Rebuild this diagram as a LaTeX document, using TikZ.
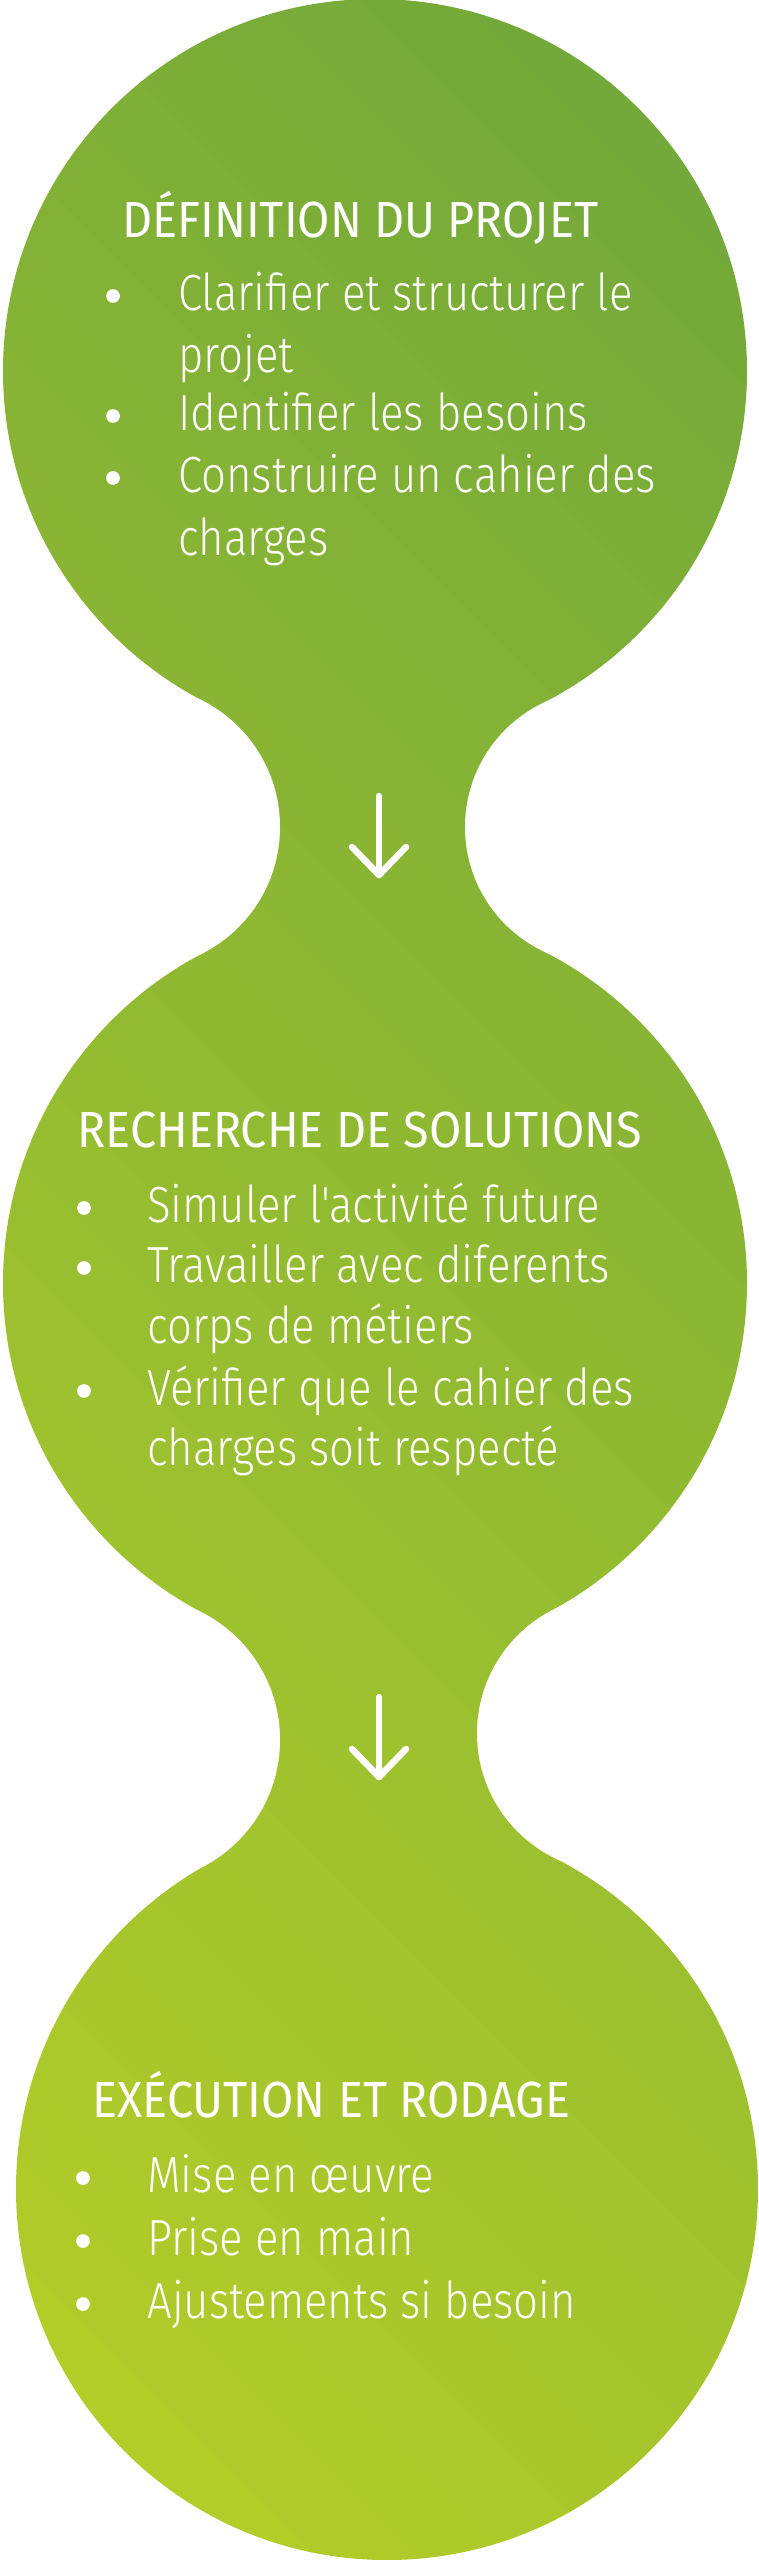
\documentclass[tikz,border=0pt]{standalone}
\usepackage{fontspec}
\newfontfamily\titrefont{Fira Sans}[FakeStretch=0.92]
\newfontfamily\textefont{Fira Sans Light}[FakeStretch=0.86]
\begin{document}
\begin{tikzpicture}[x=0.2mm,y=-0.2mm] % 1 unite = 1 px, y vers le bas
\tikzstyle{mytitle} = [anchor=base west, inner sep=0pt, text=white, font=\titrefont\fontsize{28.9}{30}\selectfont] % titre d'une bulle
\tikzstyle{myitem} = [anchor=base west, inner sep=0pt, text=white, font=\textefont\fontsize{28.9}{30}\selectfont] % ligne de texte
\tikzstyle{mydot} = [circle, fill=white, minimum size=2.75mm, inner sep=0pt] % puce
\tikzstyle{myarrow} = [white, line width=1.3mm, line cap=round, line join=round] % fleche entre les bulles
\useasboundingbox (0,0) rectangle (758,2560);
% centres des bulles et des creux
\coordinate (c1) at (375,371);
\coordinate (c2) at (375,1283);
\coordinate (c3) at (387,2189);
\coordinate (w1l) at (138.2,827);
\coordinate (w1r) at (602.7,827);
\coordinate (w2l) at (137,1739.8);
\coordinate (w2r) at (615.8,1733.5);
\begin{scope}
\clip (c1) circle[radius=372] (c2) circle[radius=372] (c3) circle[radius=371]
      (c1) -- (w1r) -- (c2) -- (w1l) -- cycle
      (c2) -- (w2r) -- (c3) -- (w2l) -- cycle;
\foreach \k in {0,...,31} { % bandes en diagonale, du vert fonce au vert clair
  \pgfmathsetmacro{\a}{760-100*\k}
  \pgfmathtruncatemacro{\r}{110+2.25*(\k+0.5)}
  \pgfmathtruncatemacro{\g}{166+1.28*(\k+0.5)}
  \pgfmathtruncatemacro{\b}{60-0.625*(\k+0.5)}
  \definecolor{band}{RGB}{\r,\g,\b}
  \fill[band] (-10,{-10-\a}) -- (770,{770-\a}) -- (770,{871-\a}) -- (-10,{91-\a}) -- cycle;
}
\end{scope}
% creux blancs entre les bulles
\fill[white] (w1l) circle[radius=141.8] (w1r) circle[radius=137.7]
             (w2l) circle[radius=143] (w2r) circle[radius=138.8];
% fleches
\coordinate (f1a) at (379,796);
\coordinate (f1b) at (379,875);
\coordinate (f2a) at (379,1697);
\coordinate (f2b) at (379,1777);
\draw[myarrow] (f1a) -- (f1b);
\draw[myarrow] (f1b) ++(-27,-28) -- (f1b) -- ++(27,-28);
\draw[myarrow] (f2a) -- (f2b);
\draw[myarrow] (f2b) ++(-27,-28) -- (f2b) -- ++(27,-28);
% bulle 1
\node[mytitle] (t1) at (122,237) {DÉFINITION DU PROJET};
\node[mydot] (d11) at (113,296) {};
\node[myitem] (i11) at (178,310) {Clarifier et structurer le};
\node[myitem] (i12) at (178,372) {projet};
\node[mydot] (d12) at (113,416) {};
\node[myitem] (i13) at (178,430) {Identifier les besoins};
\node[mydot] (d13) at (113,478) {};
\node[myitem] (i14) at (178,492) {Construire un cahier des};
\node[myitem] (i15) at (178,555) {charges};
% bulle 2
\node[mytitle] (t2) at (77,1147) {RECHERCHE DE SOLUTIONS};
\node[mydot] (d21) at (84,1208) {};
\node[myitem] (i21) at (147,1222) {Simuler l'activité future};
\node[mydot] (d22) at (84,1268) {};
\node[myitem] (i22) at (147,1282) {Travailler avec diferents};
\node[myitem] (i23) at (147,1343) {corps de métiers};
\node[mydot] (d23) at (84,1391) {};
\node[myitem] (i24) at (147,1405) {Vérifier que le cahier des};
\node[myitem] (i25) at (147,1465) {charges soit respecté};
% bulle 3
\node[mytitle] (t3) at (92,2117) {EXÉCUTION ET RODAGE};
\node[mydot] (d31) at (83,2178) {};
\node[myitem] (i31) at (147,2192) {Mise en œuvre};
\node[mydot] (d32) at (83,2241) {};
\node[myitem] (i32) at (147,2255) {Prise en main};
\node[mydot] (d33) at (83,2304) {};
\node[myitem] (i33) at (147,2318) {Ajustements si besoin};
\end{tikzpicture}
\end{document}
